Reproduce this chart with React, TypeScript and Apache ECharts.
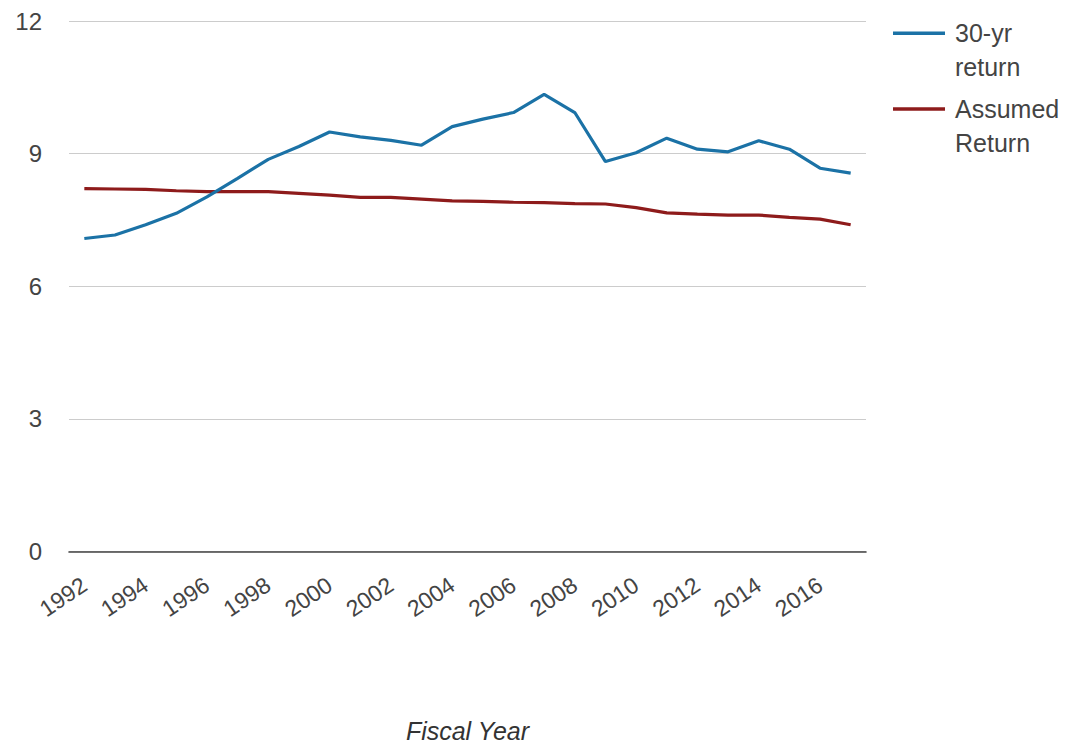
import React, { useEffect, useRef } from "react";
import * as echarts from "echarts";

// Fiscal years on the category axis
const years = [
  "1992", "1993", "1994", "1995", "1996", "1997", "1998", "1999", "2000",
  "2001", "2002", "2003", "2004", "2005", "2006", "2007", "2008", "2009",
  "2010", "2011", "2012", "2013", "2014", "2015", "2016", "2017",
];

// Trailing 30-year return (%)
const thirtyYearReturn = [
  7.08, 7.16, 7.39, 7.65, 8.02, 8.44, 8.87, 9.16, 9.49, 9.38, 9.30, 9.19,
  9.61, 9.78, 9.93, 10.34, 9.93, 8.82, 9.02, 9.35, 9.10, 9.04, 9.29, 9.10,
  8.67, 8.56,
];

// Assumed rate of return (%)
const assumedReturn = [
  8.21, 8.20, 8.19, 8.16, 8.14, 8.14, 8.14, 8.10, 8.06, 8.01, 8.01, 7.97,
  7.93, 7.92, 7.90, 7.89, 7.87, 7.86, 7.78, 7.66, 7.63, 7.61, 7.61, 7.56,
  7.52, 7.39,
];

const yTicks = { min: 0, max: 12, interval: 3 };

const SERIES_NAMES = ["30-yr return", "Assumed Return"];
const COLORS = ["#1b72a6", "#8e1b1b"];
const FONT = 'Arial, "Liberation Sans", sans-serif';

// Legend labels wrap onto two lines; an empty leading line keeps the
// first text line level with the legend swatch.
const legendFor = (name: string, top: number) => ({
  data: [name],
  left: 893,
  top,
  padding: 0,
  icon: "rect",
  itemWidth: 52,
  itemHeight: 3.5,
  itemGap: 0,
  formatter: (n: string) => "\n" + n.replace(" ", "\n"),
  textStyle: {
    fontFamily: FONT,
    fontSize: 25,
    color: "#444",
    lineHeight: 34,
    padding: [0, 0, 0, 5],
  },
});

export default function App() {
  const ref = useRef<HTMLDivElement>(null);

  useEffect(() => {
    if (!ref.current) return;
    const chart = echarts.init(ref.current, undefined, { renderer: "svg" });
    chart.setOption({
      animation: false,
      backgroundColor: "#fff",
      color: COLORS,
      grid: {
        left: 69,
        right: 210,
        top: 21,
        bottom: 192.5,
        containLabel: false,
        outerBoundsMode: "none",
      },
      legend: [legendFor(SERIES_NAMES[0], 33.3 - 51), legendFor(SERIES_NAMES[1], 109 - 51)],
      xAxis: {
        type: "category",
        data: years,
        boundaryGap: true,
        name: "Fiscal Year",
        nameLocation: "middle",
        nameGap: 167,
        nameTextStyle: {
          fontFamily: FONT,
          fontSize: 25,
          fontStyle: "italic",
          color: "#333",
        },
        axisTick: { show: false },
        axisLine: { show: true, lineStyle: { color: "#444", width: 1.6 } },
        axisLabel: {
          interval: 1,
          rotate: 34,
          margin: 31,
          fontFamily: FONT,
          fontSize: 23,
          color: "#444",
        },
        splitLine: { show: false },
      },
      yAxis: {
        type: "value",
        min: yTicks.min,
        max: yTicks.max,
        interval: yTicks.interval,
        axisLine: { show: false },
        axisTick: { show: false },
        axisLabel: {
          margin: 27,
          fontFamily: FONT,
          fontSize: 24,
          color: "#444",
        },
        splitLine: { lineStyle: { color: "#cccccc", width: 1 } },
      },
      series: [
        {
          name: SERIES_NAMES[0],
          type: "line",
          data: thirtyYearReturn,
          symbol: "none",
          showSymbol: false,
          lineStyle: { width: 3.2, color: COLORS[0] },
          itemStyle: { color: COLORS[0] },
          z: 3,
        },
        {
          name: SERIES_NAMES[1],
          type: "line",
          data: assumedReturn,
          symbol: "none",
          showSymbol: false,
          lineStyle: { width: 3.2, color: COLORS[1] },
          itemStyle: { color: COLORS[1] },
          z: 2,
        },
      ],
    });
    return () => chart.dispose();
  }, []);

  return (
    <div
      ref={ref}
      style={{ position: "absolute", left: 0, top: 0, width: 1076, height: 744 }}
    />
  );
}
